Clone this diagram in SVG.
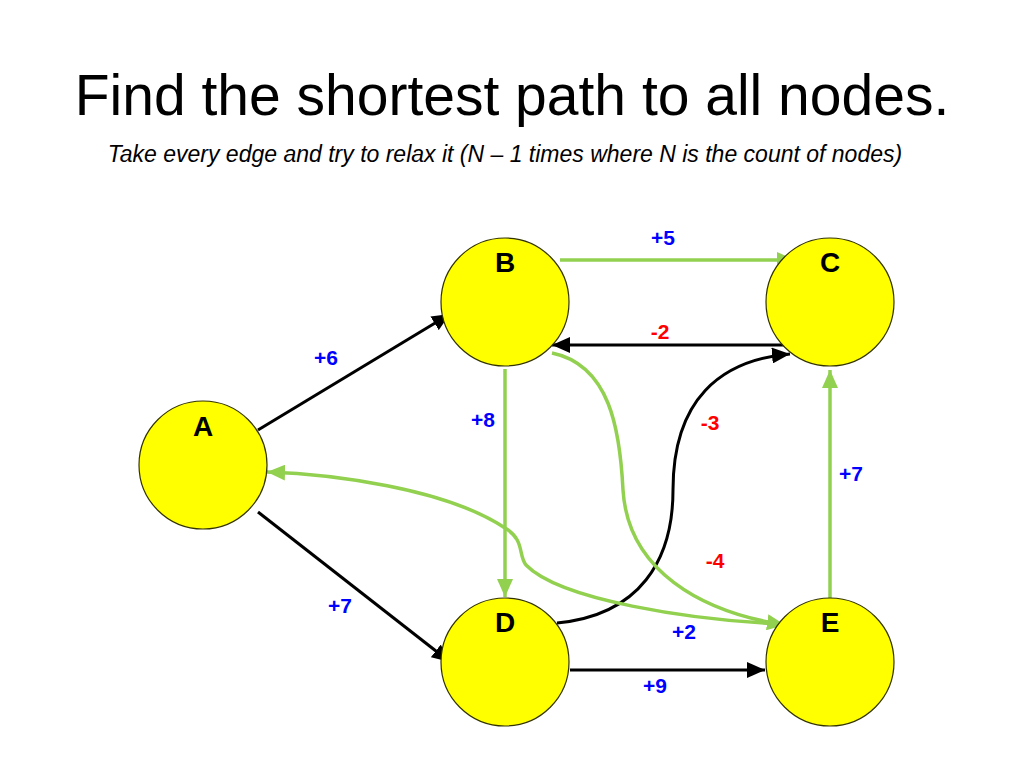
<svg xmlns="http://www.w3.org/2000/svg" width="1024" height="768" viewBox="0 0 1024 768">
<style>
.title{font-family:"Liberation Sans",Arial,sans-serif;font-size:57px;fill:#000}
.sub{font-family:"Liberation Sans",Arial,sans-serif;font-size:23px;font-style:italic;fill:#000}
.node circle{fill:#ffff00;stroke:#333300;stroke-width:1.2}
.node text{font-family:"Liberation Sans",Arial,sans-serif;font-size:28px;font-weight:bold;text-anchor:middle;fill:#000}
.blk{fill:none;stroke:#000;stroke-width:3;marker-end:url(#ab)}
.grn{fill:none;stroke:#92d050;stroke-width:3.5;marker-end:url(#ag)}
.lbl{font-family:"Liberation Sans",Arial,sans-serif;font-size:21px;font-weight:bold;text-anchor:middle}
.pos{fill:#0000ff}
.neg{fill:#ff0000}
</style>
<defs>
<marker id="ab" markerUnits="userSpaceOnUse" markerWidth="20" markerHeight="16" refX="18" refY="8" orient="auto"><path d="M0,0 L18,8 L0,16 Z" fill="#000"/></marker>
<marker id="ag" markerUnits="userSpaceOnUse" markerWidth="20" markerHeight="16" refX="18" refY="8" orient="auto"><path d="M0,0 L18,8 L0,16 Z" fill="#92d050"/></marker>
</defs>
<rect width="1024" height="768" fill="#fff"/>
<text class="title" x="512" y="115" text-anchor="middle">Find the shortest path to all nodes.</text>
<text class="sub" x="505" y="162" text-anchor="middle">Take every edge and try to relax it (N – 1 times where N is the count of nodes)</text>
<g id="connectors">
<line class="grn" x1="560" y1="260" x2="795" y2="260"/>
<line class="blk" x1="786" y1="345" x2="552" y2="345"/>
<line class="blk" x1="258" y1="430" x2="450" y2="314"/>
<line class="blk" x1="258" y1="512" x2="450" y2="662"/>
<line class="grn" x1="505" y1="369" x2="505" y2="597"/>
<path class="blk" d="M557,623 C640,615 673,560 673,490 C673,400 720,360 790,354"/>
<path class="grn" d="M552,353 C610,365 620,430 623,490 C628,570 700,612 785,625"/>
<path class="grn" d="M782,624 C690,620 560,600 526,565 C518,555 525,540 505,528 C445,488 330,474 267,472"/>
<line class="grn" x1="830" y1="598" x2="830" y2="370"/>
<line class="blk" x1="570" y1="670" x2="765" y2="670"/>
</g>
<g id="node-A" class="node"><circle cx="203" cy="465" r="64"/><text x="203" y="436">A</text></g>
<g id="node-B" class="node"><circle cx="505" cy="302" r="64"/><text x="505" y="272">B</text></g>
<g id="node-C" class="node"><circle cx="830" cy="302" r="64"/><text x="830" y="272">C</text></g>
<g id="node-D" class="node"><circle cx="505" cy="662" r="64"/><text x="505" y="632">D</text></g>
<g id="node-E" class="node"><circle cx="830" cy="662" r="64"/><text x="830" y="632">E</text></g>
<g id="labels">
<text class="lbl pos" x="663" y="245">+5</text>
<text class="lbl neg" x="660" y="339">-2</text>
<text class="lbl pos" x="326" y="365">+6</text>
<text class="lbl pos" x="483" y="427">+8</text>
<text class="lbl neg" x="710" y="430">-3</text>
<text class="lbl pos" x="851" y="481">+7</text>
<text class="lbl neg" x="715" y="568">-4</text>
<text class="lbl pos" x="340" y="613">+7</text>
<text class="lbl pos" x="684" y="639">+2</text>
<text class="lbl pos" x="655" y="693">+9</text>
</g>
</svg>
